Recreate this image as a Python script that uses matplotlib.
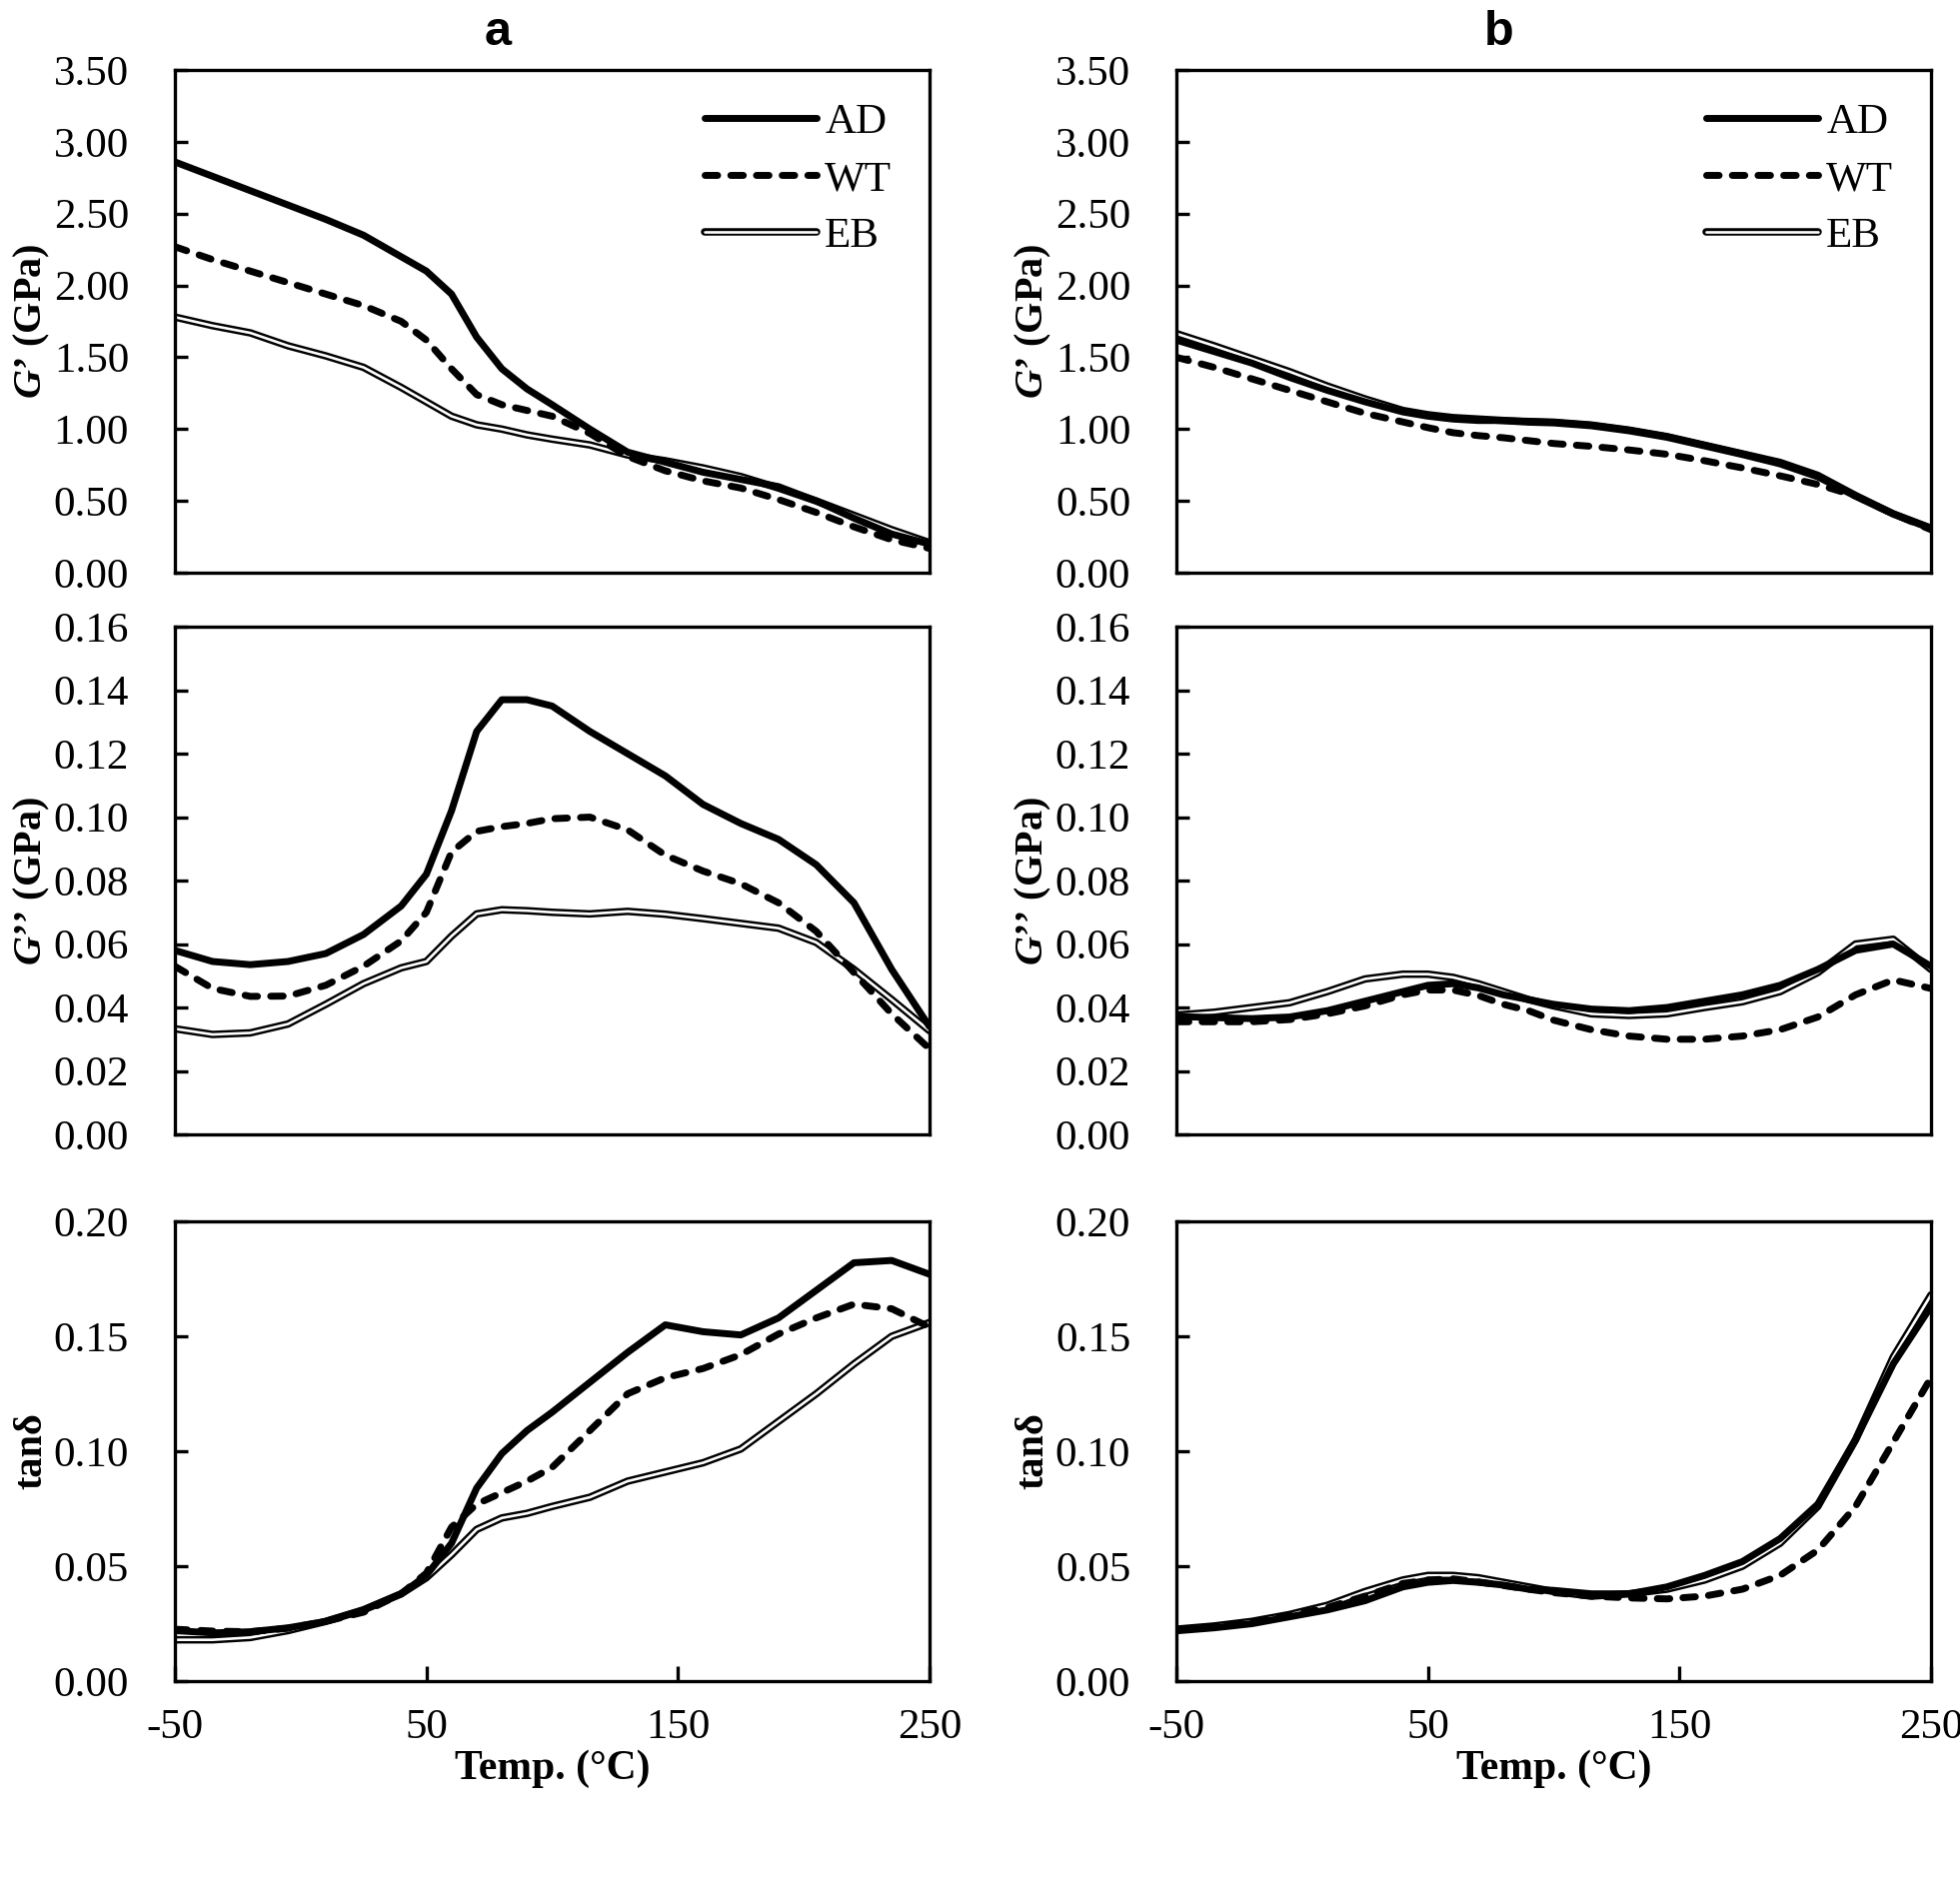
import matplotlib
matplotlib.use("Agg")
import matplotlib.pyplot as plt
import matplotlib.patheffects as pe

plt.rcParams['font.family'] = ['Liberation Serif', 'DejaVu Serif']
plt.rcParams['mathtext.fontset'] = 'custom'
plt.rcParams['mathtext.it'] = 'Liberation Serif:italic:bold'
plt.rcParams['mathtext.rm'] = 'Liberation Serif:bold'
plt.rcParams['axes.unicode_minus'] = False

# temperature grid shared by all curves (deg C)
temps = [-50, -35, -20, -5, 10, 25, 40, 50, 60, 70, 80, 90, 100,
         115, 130, 145, 160, 175, 190, 205, 220, 235, 250]

# column a
a_gp_AD = [2.86, 2.76, 2.66, 2.56, 2.46, 2.35, 2.20, 2.10, 1.94, 1.64, 1.42, 1.28, 1.17,
           1.00, 0.84, 0.77, 0.70, 0.65, 0.60, 0.50, 0.38, 0.27, 0.20]
a_gp_WT = [2.27, 2.18, 2.10, 2.02, 1.94, 1.86, 1.75, 1.62, 1.42, 1.24, 1.17, 1.13, 1.09,
           0.97, 0.81, 0.71, 0.64, 0.59, 0.51, 0.42, 0.32, 0.23, 0.17]
a_gp_EB = [1.78, 1.72, 1.67, 1.58, 1.51, 1.43, 1.29, 1.19, 1.09, 1.03, 1.00, 0.96, 0.93,
           0.89, 0.82, 0.78, 0.73, 0.67, 0.59, 0.50, 0.40, 0.30, 0.21]

a_gpp_AD = [0.058, 0.0545, 0.0535, 0.0545, 0.057, 0.063, 0.072, 0.082, 0.102, 0.127, 0.137, 0.137, 0.135,
            0.127, 0.120, 0.113, 0.104, 0.098, 0.093, 0.085, 0.073, 0.052, 0.034]
a_gpp_WT = [0.053, 0.046, 0.0435, 0.0436, 0.047, 0.053, 0.061, 0.070, 0.089, 0.0955, 0.097, 0.098, 0.0995,
            0.100, 0.096, 0.088, 0.083, 0.079, 0.073, 0.064, 0.051, 0.038, 0.027]
a_gpp_EB = [0.0333, 0.0315, 0.032, 0.0348, 0.041, 0.0475, 0.0525, 0.0545, 0.0625, 0.0695, 0.0708, 0.0705, 0.070,
            0.0695, 0.0703, 0.0694, 0.068, 0.0665, 0.065, 0.0605, 0.052, 0.0425, 0.0327]

a_tan_AD = [0.022, 0.021, 0.0215, 0.0232, 0.026, 0.031, 0.038, 0.046, 0.060, 0.084, 0.099, 0.109, 0.117,
            0.130, 0.143, 0.155, 0.152, 0.1506, 0.158, 0.170, 0.182, 0.183, 0.177]
a_tan_WT = [0.0226, 0.0218, 0.0215, 0.023, 0.026, 0.030, 0.038, 0.047, 0.067, 0.077, 0.082, 0.087, 0.093,
            0.109, 0.125, 0.132, 0.136, 0.142, 0.151, 0.158, 0.164, 0.162, 0.154]
a_tan_EB = [0.018, 0.018, 0.019, 0.022, 0.026, 0.031, 0.038, 0.045, 0.055, 0.066, 0.071, 0.073, 0.076,
            0.080, 0.087, 0.091, 0.095, 0.101, 0.113, 0.125, 0.138, 0.150, 0.156]

# column b
b_gp_AD = [1.62, 1.54, 1.46, 1.36, 1.27, 1.19, 1.12, 1.09, 1.07, 1.06, 1.06, 1.055, 1.05,
           1.03, 0.995, 0.95, 0.89, 0.83, 0.77, 0.68, 0.54, 0.41, 0.31]
b_gp_WT = [1.50, 1.43, 1.35, 1.27, 1.19, 1.11, 1.05, 1.01, 0.975, 0.955, 0.94, 0.92, 0.90,
           0.88, 0.855, 0.825, 0.78, 0.73, 0.675, 0.615, 0.535, 0.41, 0.30]
b_gp_EB = [1.665, 1.58, 1.49, 1.40, 1.30, 1.21, 1.13, 1.10, 1.08, 1.07, 1.06, 1.05, 1.045,
           1.025, 0.99, 0.945, 0.885, 0.825, 0.76, 0.67, 0.535, 0.41, 0.31]

b_gpp_AD = [0.0372, 0.0368, 0.0365, 0.037, 0.039, 0.042, 0.045, 0.047, 0.0475, 0.0462, 0.044, 0.0425, 0.041,
            0.0395, 0.039, 0.040, 0.042, 0.044, 0.047, 0.052, 0.058, 0.060, 0.053]
b_gpp_WT = [0.0355, 0.0355, 0.0355, 0.0362, 0.038, 0.0405, 0.044, 0.0455, 0.0455, 0.0438, 0.041, 0.039, 0.036,
            0.033, 0.031, 0.030, 0.030, 0.031, 0.033, 0.037, 0.044, 0.0487, 0.046]
b_gpp_EB = [0.0376, 0.0385, 0.040, 0.0415, 0.045, 0.049, 0.0505, 0.0505, 0.0495, 0.0475, 0.045, 0.0425, 0.0405,
            0.038, 0.0375, 0.038, 0.040, 0.0418, 0.045, 0.051, 0.060, 0.0615, 0.052]

b_tan_AD = [0.0219, 0.0232, 0.025, 0.028, 0.031, 0.035, 0.041, 0.043, 0.0438, 0.043, 0.0418, 0.040, 0.0395,
            0.038, 0.038, 0.041, 0.046, 0.052, 0.062, 0.077, 0.105, 0.138, 0.163]
b_tan_WT = [0.0223, 0.0235, 0.0255, 0.0285, 0.032, 0.037, 0.0425, 0.044, 0.0445, 0.0432, 0.0416, 0.040, 0.0385,
            0.037, 0.0362, 0.0358, 0.037, 0.040, 0.046, 0.057, 0.076, 0.104, 0.132]
b_tan_EB = [0.0226, 0.024, 0.026, 0.029, 0.033, 0.039, 0.044, 0.046, 0.046, 0.045, 0.043, 0.041, 0.039,
            0.037, 0.038, 0.040, 0.044, 0.050, 0.060, 0.076, 0.105, 0.141, 0.168]

x_ticks = [-50, 50, 150, 250]
gp_ticks = [0, 0.5, 1.0, 1.5, 2.0, 2.5, 3.0, 3.5]
gpp_ticks = [0, 0.02, 0.04, 0.06, 0.08, 0.10, 0.12, 0.14, 0.16]
tan_ticks = [0, 0.05, 0.10, 0.15, 0.20]

fig = plt.figure(figsize=(19.61, 18.87), dpi=100)

lefts = [0.0892, 0.6002]
rows = [(0.6963, 0.2666), (0.3985, 0.2692), (0.1086, 0.2438)]
W = 0.385

columns = [
    [(a_gp_AD, a_gp_WT, a_gp_EB), (a_gpp_AD, a_gpp_WT, a_gpp_EB), (a_tan_AD, a_tan_WT, a_tan_EB)],
    [(b_gp_AD, b_gp_WT, b_gp_EB), (b_gpp_AD, b_gpp_WT, b_gpp_EB), (b_tan_AD, b_tan_WT, b_tan_EB)],
]
ylabels = [r"$\mathit{G}$’ (GPa)", r"$\mathit{G}$’’ (GPa)", "tanδ"]
yticks = [gp_ticks, gpp_ticks, tan_ticks]
ylims = [(0, 3.5), (0, 0.16), (0, 0.20)]

for ci, col in enumerate(columns):
    for ri, (ad, wt, eb) in enumerate(col):
        b, h = rows[ri]
        ax = fig.add_axes([lefts[ci], b, W, h])
        l_eb, = ax.plot(temps, eb, color='white', lw=1.9, solid_joinstyle='round',
                        solid_capstyle='round',
                        path_effects=[pe.Stroke(linewidth=5.4, foreground='black'), pe.Normal()],
                        label='EB')
        l_wt, = ax.plot(temps, wt, color='black', lw=5, dashes=(1.8, 1.9),
                        dash_capstyle='round', dash_joinstyle='round', label='WT')
        l_ad, = ax.plot(temps, ad, color='black', lw=5, solid_joinstyle='round',
                        solid_capstyle='round', label='AD')
        ax.set_xlim(-50, 250)
        ax.set_ylim(*ylims[ri])
        ax.set_yticks(yticks[ri])
        ax.set_yticklabels([f"{v:.2f}" for v in yticks[ri]])
        ax.set_xticks(x_ticks)
        for s in ax.spines.values():
            s.set_linewidth(2.4)
        ax.tick_params(axis='y', direction='in', length=9, width=2.4, pad=33, labelsize=31)
        if ri == 2:
            ax.tick_params(axis='x', direction='in', length=11, width=2.4, pad=20, labelsize=31)
            ax.text(0.5, -0.19, "Temp. (°C)", transform=ax.transAxes, ha='center', va='center',
                    fontsize=30, fontweight='bold')
        else:
            ax.tick_params(axis='x', bottom=False, labelbottom=False)
        ax.text(-0.19, 0.5, ylabels[ri], transform=ax.transAxes, rotation=90,
                ha='center', va='center', fontsize=29, fontweight='bold')
        if ri == 0:
            ax.legend(handles=[l_ad, l_wt, l_eb], loc='upper right', bbox_to_anchor=(0.95, 0.935),
                      frameon=False, fontsize=31, handlelength=2.6, handletextpad=0.2,
                      labelspacing=0.42, borderpad=0, borderaxespad=0)

fig.text(0.254, 0.983, "a", ha='center', va='center', fontsize=35, fontweight='bold',
         family='Liberation Sans')
fig.text(0.765, 0.983, "b", ha='center', va='center', fontsize=35, fontweight='bold',
         family='Liberation Sans')

fig.savefig("out.png", dpi=100)
